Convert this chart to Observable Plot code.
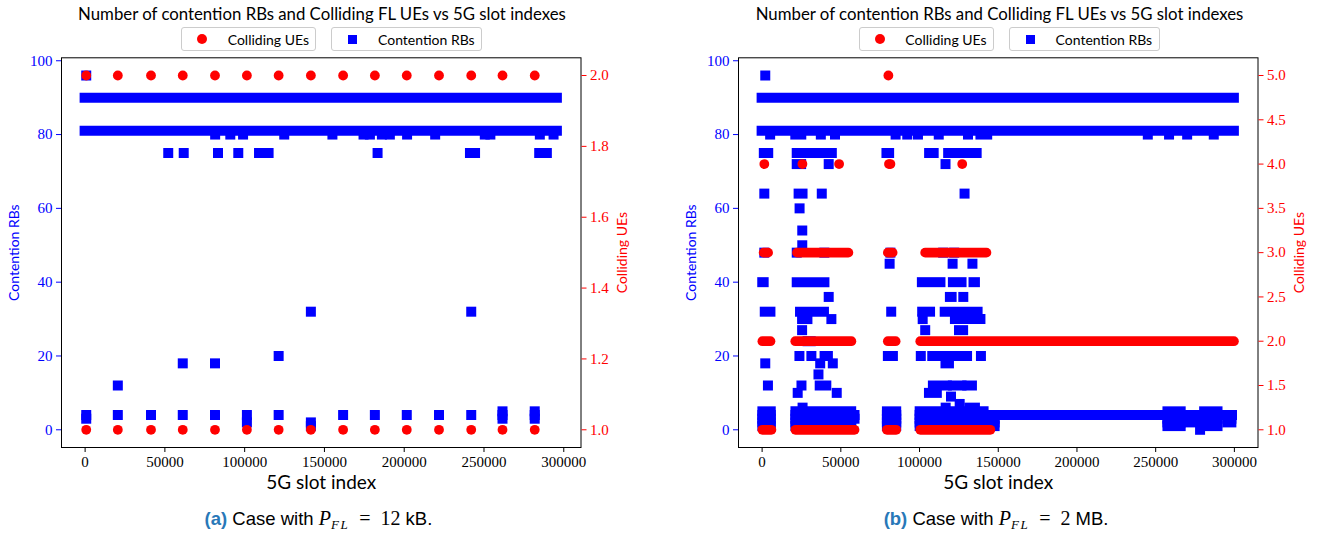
<!DOCTYPE html>
<html><head><meta charset="utf-8">
<script src="https://cdn.jsdelivr.net/npm/d3@7"></script>
<script src="https://cdn.jsdelivr.net/npm/@observablehq/plot@0.6"></script>
<style>
html,body{margin:0;padding:0;background:#fff;}
#root{position:relative;width:1319px;height:535px;overflow:hidden;background:#fff;}
#root svg{position:absolute;top:0;}
.title{position:absolute;top:12.7px;font-family:Lato,sans-serif;font-size:16.8px;white-space:nowrap;transform:translate(-50%,-50%);color:#000;}
.lgbox{position:absolute;top:27px;height:24px;border:1px solid #cccccc;border-radius:3px;background:#fff;box-sizing:border-box;}
.lgtext{position:absolute;top:39px;transform:translateY(-50%);font-family:Lato,sans-serif;font-size:14px;white-space:nowrap;color:#000;}
.mk{position:absolute;}
.caption{position:absolute;top:520px;transform:translate(-50%,-50%);font-family:"Liberation Sans",Arial,sans-serif;font-size:18.5px;white-space:nowrap;color:#000;}
.caption b{color:#2878b8;}
.caption .m{font-family:"Liberation Serif",serif;font-size:20px;}
.caption sub{font-size:13px;font-style:italic;font-family:"Liberation Serif",serif;letter-spacing:1.5px;}
</style></head>
<body><div id="root"></div>
<script>
// ---------- shared axis content ----------
const titleText = "Number of contention RBs and Colliding FL UEs vs 5G slot indexes";
const xLabel = "5G slot index";
const rbLabel = "Contention RBs";
const ueLabel = "Colliding UEs";
const xTicks = [0, 50000, 100000, 150000, 200000, 250000, 300000];
const rbTicks = [0, 20, 40, 60, 80, 100];
const aUeTicks = [1.0, 1.2, 1.4, 1.6, 1.8, 2.0];
const bUeTicks = [1.0, 1.5, 2.0, 2.5, 3.0, 3.5, 4.0, 4.5, 5.0];

// ---------- panel (a): P_FL = 12 kB ----------
// runs of consecutive slots: [fromSlot, toSlot, value]
const aRbRuns = [[0, 296000, 90], [0, 296000, 81]];
// isolated slots: [slot, value]
const aRbPoints = [
  [700, 96],
  [81500, 80], [91000, 80], [99000, 80], [124800, 80], [155000, 80], [174500, 80], [178500, 80],
  [186000, 80], [191000, 80], [201800, 80], [219400, 80], [250500, 80], [254000, 80], [285000, 80], [293600, 80],
  [52100, 75], [61800, 75], [83300, 75], [96000, 75], [109000, 75], [112000, 75], [115000, 75],
  [183300, 75], [241200, 75], [244400, 75], [284600, 75], [289400, 75],
  [141500, 32], [242000, 32], [121300, 20], [61200, 18], [81400, 18], [20500, 12],
  [700, 4], [700, 3], [20500, 4], [41300, 4], [61200, 4], [81400, 4], [101400, 4], [101400, 2],
  [121300, 4], [141500, 2], [141500, 1], [161700, 4], [181600, 4], [201600, 4], [221800, 4],
  [242000, 4], [261600, 5], [261600, 4], [261600, 3], [281800, 5], [281800, 4], [281800, 3]
];
const aUeRuns = [];
const aUePoints = [
  [700, 2], [20500, 2], [41300, 2], [61200, 2], [81400, 2], [101400, 2], [121300, 2], [141500, 2],
  [161700, 2], [181600, 2], [201600, 2], [221800, 2], [242000, 2], [261600, 2], [281800, 2],
  [700, 1], [20500, 1], [41300, 1], [61200, 1], [81400, 1], [101400, 1], [121300, 1], [141500, 1],
  [161700, 1], [181600, 1], [201600, 1], [221800, 1], [242000, 1], [261600, 1], [281800, 1]
];

// ---------- panel (b): P_FL = 2 MB ----------
const bRbRuns = [
  [0, 300000, 90], [0, 300000, 81],
  [500, 5800, 1], [500, 5800, 2], [500, 5800, 3], [500, 5800, 4], [500, 5800, 5],
  [21500, 56900, 1], [21500, 56900, 2], [21500, 56900, 3], [21500, 56900, 4], [21500, 56900, 5],
  [79600, 85500, 1], [79600, 85500, 2], [79600, 85500, 3], [79600, 85500, 4], [79600, 85500, 5],
  [100400, 141000, 1], [100400, 141000, 2], [100400, 141000, 3], [100400, 141000, 5],
  [100400, 298800, 4],
  [141000, 148000, 1], [141000, 148000, 2], [141000, 148000, 3],
  [257800, 266200, 1], [257800, 266200, 2], [257800, 266200, 3], [257800, 266200, 5],
  [266200, 275000, 2], [266200, 275000, 3],
  [281100, 289600, 1], [281100, 289600, 2], [281100, 289600, 3], [281100, 289600, 5],
  [296000, 298400, 2], [296000, 298400, 3],
  [1400, 4200, 75], [22300, 44600, 75], [79300, 81000, 75], [106400, 109300, 75], [118500, 136600, 75],
  [21400, 25200, 80], [139000, 143300, 80],
  [22300, 25100, 72], [23500, 26000, 64],
  [400, 1300, 40], [22300, 39900, 40], [101800, 113600, 40], [121500, 127000, 40], [134600, 135500, 40],
  [119600, 120700, 36],
  [2000, 5600, 32], [24400, 39600, 32], [102000, 107000, 32], [116300, 137200, 32],
  [25700, 29100, 30], [122800, 139000, 30],
  [125400, 128000, 27],
  [29200, 31200, 24],
  [40000, 42100, 20], [80200, 83400, 20], [108400, 130500, 20],
  [116800, 119000, 18],
  [36900, 41100, 12], [108800, 117700, 12], [121500, 127000, 12], [130600, 133600, 12],
  [106300, 111300, 10],
  [132000, 135500, 6]
];
const bRbPoints = [
  [2000, 96],
  [5100, 80], [37300, 80], [46300, 80], [84800, 80], [92200, 80], [99000, 80], [112200, 80],
  [130800, 80], [245000, 80], [258500, 80], [270000, 80], [286900, 80],
  [42300, 72], [116500, 72],
  [1400, 64], [37900, 64], [128600, 64],
  [23800, 60], [25500, 54], [25500, 50],
  [1400, 48], [22000, 48], [39500, 48], [81500, 48], [115000, 48], [122000, 48],
  [81000, 45], [121000, 45], [133600, 45],
  [42300, 36], [127800, 36],
  [82000, 32],
  [44000, 30], [102000, 30],
  [25400, 27], [103600, 27],
  [23700, 20], [31300, 20], [100800, 20], [139000, 20],
  [2000, 18], [36900, 18], [44900, 18],
  [35800, 15],
  [3700, 12], [25000, 12],
  [22600, 10], [47400, 10],
  [120000, 9], [125500, 7],
  [25700, 6], [116600, 6],
  [58700, 4], [58700, 3],
  [278200, 0]
];
const bUeRuns = [
  [1300, 4100, 3], [22500, 55100, 3], [80200, 83200, 3], [103900, 142800, 3],
  [500, 5600, 2], [21400, 57000, 2], [80200, 85100, 2], [100800, 300000, 2],
  [500, 6200, 1], [21500, 59000, 1], [79600, 85500, 1], [100800, 145300, 1]
];
const bUePoints = [
  [80200, 5], [1400, 4], [25600, 4], [48900, 4], [80600, 4], [81500, 4], [127100, 4]
];

// ---------- drawing ----------
const BLUE = "#0000ff", RED = "#ff0000";
const FW = 519.5, FT = 57.3, FB = 447, H = 535, ML = 61, MR = 80.5;
const TICKFS = 15;
const root = document.getElementById("root");
const sans = "Lato, sans-serif", serif = "'Liberation Serif', serif";

function panel(frameLeft, xDomain, rbDomain, ueDomain, ueTicks, rbRuns, rbPoints, ueRuns, uePoints, capLetter, capValue, capUnit) {
  const W = ML + FW + MR;
  const common = {
    width: W, height: H,
    marginLeft: ML, marginRight: MR, marginTop: FT, marginBottom: H - FB,
    style: {background: "transparent", fontFamily: serif, fontSize: TICKFS + "px", overflow: "visible"},
    x: {domain: xDomain}
  };
  const blue = Plot.plot({
    ...common,
    y: {domain: rbDomain},
    marks: [
      Plot.ruleY(rbRuns, {x1: d => d[0], x2: d => d[1], y: d => d[2], stroke: BLUE, strokeWidth: 10, strokeLinecap: "square"}),
      Plot.dot(rbPoints, {x: d => d[0], y: d => d[1], symbol: "square", r: 5.64, fill: BLUE, stroke: "none"}),
      Plot.frame({stroke: "#000", strokeWidth: 1}),
      Plot.axisX({ticks: xTicks, tickFormat: d => String(d), tickSize: 5, tickPadding: 4, label: null, color: "#000", fontSize: TICKFS}),
      Plot.axisY({ticks: rbTicks, tickFormat: d => String(d), tickSize: 5, tickPadding: 4, label: null, color: BLUE, fontSize: TICKFS}),
      Plot.text([xLabel], {frameAnchor: "bottom", dy: 35.5, lineAnchor: "middle", textAnchor: "middle", fontFamily: sans, fontSize: 19, fill: "#000"}),
      Plot.text([rbLabel], {frameAnchor: "left", dx: -46.5, rotate: -90, textAnchor: "middle", lineAnchor: "middle", fontFamily: sans, fontSize: 14, fill: BLUE})
    ]
  });
  const red = Plot.plot({
    ...common,
    x: {domain: xDomain, axis: null},
    y: {domain: ueDomain},
    marks: [
      Plot.ruleY(ueRuns, {x1: d => d[0], x2: d => d[1], y: d => d[2], stroke: RED, strokeWidth: 9.8, strokeLinecap: "round"}),
      Plot.dot(uePoints, {x: d => d[0], y: d => d[1], r: 4.9, fill: RED, stroke: "none"}),
      Plot.axisY({anchor: "right", ticks: ueTicks, tickFormat: d => d.toFixed(1), tickSize: 5, tickPadding: 4, label: null, color: RED, fontSize: TICKFS}),
      Plot.text([ueLabel], {frameAnchor: "right", dx: 42, rotate: -90, textAnchor: "middle", lineAnchor: "middle", fontFamily: sans, fontSize: 14, fill: RED})
    ]
  });
  for (const s of [blue, red]) { s.style.left = (frameLeft - ML) + "px"; root.appendChild(s); }

  const cx = frameLeft + FW / 2;
  const t = document.createElement("div");
  t.className = "title"; t.textContent = titleText; t.style.left = (cx + 1.5) + "px";
  root.appendChild(t);

  const add = (cls, css, text) => { const e = document.createElement("div"); e.className = cls; Object.assign(e.style, css); if (text) e.textContent = text; root.appendChild(e); return e; };
  add("lgbox", {left: (frameLeft + 120.3) + "px", width: "135px"});
  add("mk", {left: (frameLeft + 141.3 - 5) + "px", top: "34px", width: "10px", height: "10px", borderRadius: "50%", background: RED});
  add("lgtext", {left: (frameLeft + 167) + "px"}, ueLabel);
  add("lgbox", {left: (frameLeft + 270.3) + "px", width: "151px"});
  add("mk", {left: (frameLeft + 292.1 - 4.5) + "px", top: "34.5px", width: "9px", height: "9px", background: BLUE});
  add("lgtext", {left: (frameLeft + 317.3) + "px"}, rbLabel);

  const c = document.createElement("div");
  c.className = "caption"; c.style.left = (cx - 2) + "px";
  c.innerHTML = `<b>(${capLetter})</b> Case with <i class="m">P</i><sub>FL</sub><span class="m">&ensp;=&ensp;${capValue}</span> ${capUnit}.`;
  root.appendChild(c);
}

panel(60.7, [-14800, 310800], [-4.8, 100.8], [0.95, 2.05], aUeTicks, aRbRuns, aRbPoints, aUeRuns, aUePoints, "a", "12", "kB");
panel(738.3, [-15000, 315000], [-4.8, 100.8], [0.8, 5.2], bUeTicks, bRbRuns, bRbPoints, bUeRuns, bUePoints, "b", "2", "MB");
</script>
</body></html>
